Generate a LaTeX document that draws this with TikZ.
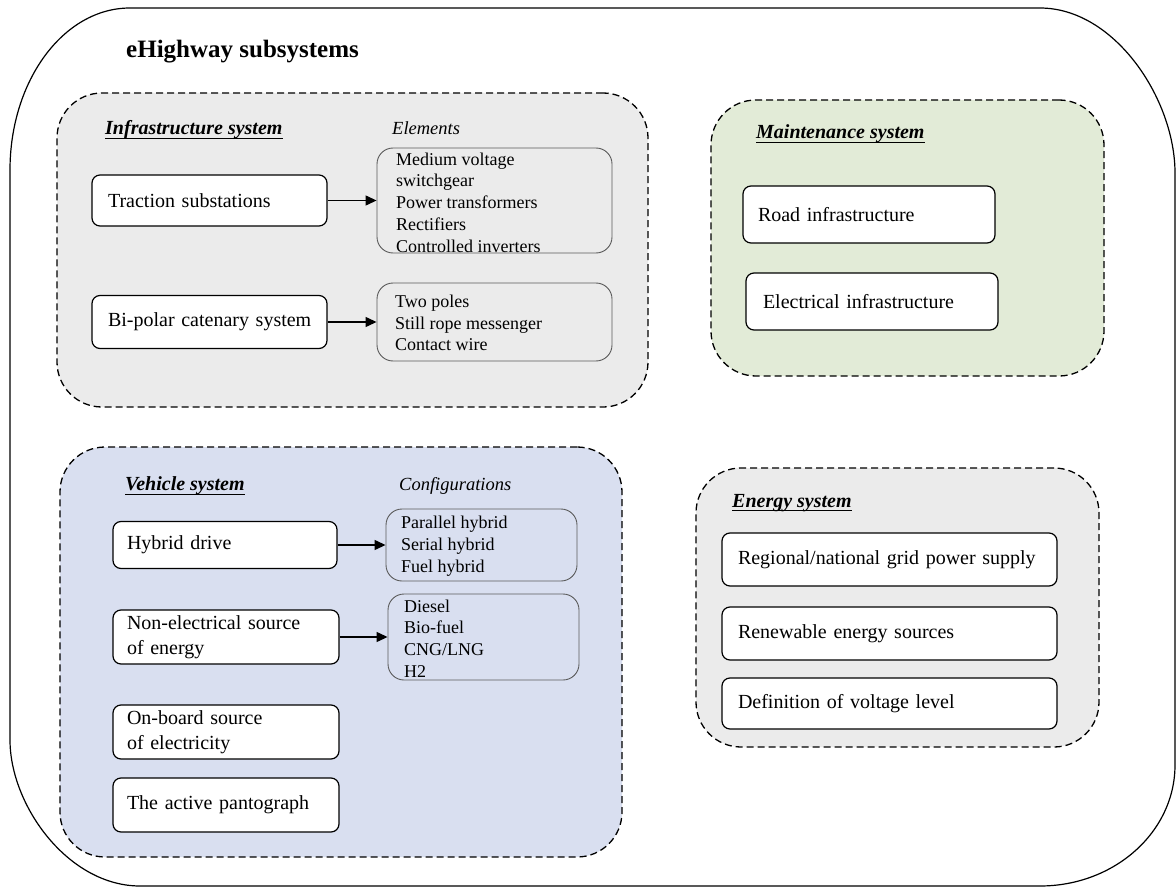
\documentclass[tikz,border=0pt]{standalone}
\usepackage{fontspec}
\setmainfont{Liberation Serif}
\usetikzlibrary{arrows.meta}

\definecolor{greyfill}{RGB}{235,235,235}
\definecolor{greenfill}{RGB}{226,235,215}
\definecolor{bluefill}{RGB}{217,223,240}
\definecolor{listline}{RGB}{90,90,90}

\newcommand\boxfont{\fontsize{20}{24.5}\selectfont}
\newcommand\listfont{\fontsize{18}{21.8}\selectfont}

\tikzset{
  group/.style={draw, dash pattern=on 7pt off 4pt, line width=1.3pt,
    rounded corners=45pt, inner sep=0pt},
  mainbox/.style={draw, line width=1.2pt, rounded corners=8pt, fill=white,
    inner sep=0pt, align=left, font=\boxfont},
  listbox/.style={draw=listline, line width=0.9pt, rounded corners=16pt,
    inner sep=0pt},
  listtext/.style={anchor=west, inner sep=0pt, align=left, font=\listfont},
  grouptitle/.style={anchor=west, inner sep=0pt,
    font=\fontsize{20}{24}\selectfont\bfseries\itshape},
  colhead/.style={anchor=west, inner sep=0pt,
    font=\fontsize{18.5}{22}\selectfont\itshape},
  link/.style={line width=1.3pt, -{Triangle[length=11pt,width=10pt]}},
  underl/.style={line width=1.1pt}
}

\begin{document}
\begin{tikzpicture}[x=1pt,y=-1pt]
\useasboundingbox (0,0) rectangle (1176,888);

% outer frame
\draw[line width=1.2pt]
  (10,170) .. controls (10,80.5) and (63.7,8) .. (130,8)
  -- (1040,8) .. controls (1114.6,8) and (1175,99.1) .. (1175,173)
  -- (1175,765) .. controls (1175,831.8) and (1114.6,886) .. (1040,886)
  -- (140,886) .. controls (68.2,886) and (10,805.4) .. (10,740) -- cycle;

\node[anchor=west, inner sep=0pt, font=\fontsize{25}{30}\selectfont\bfseries]
  (maintitle) at (126,52) {eHighway subsystems};

% ---------------- infrastructure system ----------------
\node[group, fill=greyfill, minimum width=591pt, minimum height=314pt]
  (infra) at (352.5,250) {};
\node[grouptitle] (infratitle) at (105,130) {Infrastructure system};
\draw[underl] ([yshift=-3.5pt]infratitle.base west) -- ([yshift=-3.5pt]infratitle.base east);
\node[colhead] (elemhead) at (392,128) {Elements};

\node[mainbox, minimum width=235pt, minimum height=51pt, text width=203pt]
  (trac) at (209.5,200.5) {Traction substations};
\node[listbox, minimum width=235pt, minimum height=105pt] (elem) at (494.5,200.5) {};
\node[listtext] (elemtext) at (396,202.5) {Medium voltage\\switchgear\\Power transformers\\Rectifiers\\Controlled inverters};

\node[mainbox, minimum width=235pt, minimum height=53pt, text width=203pt]
  (bipol) at (209.5,322) {\mbox{Bi-polar catenary system}};
\node[listbox, minimum width=235pt, minimum height=78pt] (cat) at (494.5,322) {};
\node[listtext] (cattext) at (395,323) {Two poles\\Still rope messenger\\Contact wire};

\draw[link] (trac.east) -- (elem.west);
\draw[link] (bipol.east) -- (cat.west);

% ---------------- maintenance system ----------------
\node[group, fill=greenfill, minimum width=393pt, minimum height=276pt]
  (maint) at (907.5,238) {};
\node[grouptitle] (mainttitle) at (756,134) {Maintenance system};
\draw[underl] ([yshift=-3.5pt]mainttitle.base west) -- ([yshift=-3.5pt]mainttitle.base east);

\node[mainbox, minimum width=252pt, minimum height=57pt, text width=222pt]
  (road) at (869,214.5) {Road infrastructure};
\node[mainbox, minimum width=252pt, minimum height=57pt, text width=218pt]
  (elec) at (872,301.5) {Electrical infrastructure};

% ---------------- vehicle system ----------------
\node[group, fill=bluefill, minimum width=562pt, minimum height=410pt]
  (vehicle) at (341,652) {};
\node[grouptitle] (vehtitle) at (125,486) {Vehicle system};
\draw[underl] ([yshift=-3.5pt]vehtitle.base west) -- ([yshift=-3.5pt]vehtitle.base east);
\node[colhead] (confhead) at (399,486) {Configurations};

\node[mainbox, minimum width=224pt, minimum height=47pt, text width=196pt]
  (hyb) at (225,545) {Hybrid drive};
\node[listbox, minimum width=191pt, minimum height=72pt] (conf) at (481.5,545) {};
\node[listtext] (conftext) at (401,546) {Parallel hybrid\\Serial hybrid\\Fuel hybrid};

\node[mainbox, minimum width=226pt, minimum height=54pt, text width=198pt]
  (nonel) at (226,637) {Non-electrical source\\of energy};
\node[listbox, minimum width=191pt, minimum height=86pt] (fuel) at (483.5,637) {};
\node[listtext] (fueltext) at (404,638.5) {Diesel\\Bio-fuel\\CNG/LNG\\H2};

\node[mainbox, minimum width=226pt, minimum height=54pt, text width=198pt]
  (onb) at (226,732) {On-board source\\of electricity};
\node[mainbox, minimum width=226pt, minimum height=54pt, text width=198pt]
  (pant) at (226,805) {The active pantograph};

\draw[link] (hyb.east) -- (conf.west);
\draw[link] (nonel.east) -- (fuel.west);

% ---------------- energy system ----------------
\node[group, fill=greyfill, minimum width=403pt, minimum height=279pt]
  (energy) at (897.5,607.5) {};
\node[grouptitle] (entitle) at (732,503) {Energy system};
\draw[underl] ([yshift=-3.5pt]entitle.base west) -- ([yshift=-3.5pt]entitle.base east);

\node[mainbox, minimum width=335pt, minimum height=53pt, text width=303pt]
  (grid) at (889.5,559.5) {Regional/national grid power supply};
\node[mainbox, minimum width=335pt, minimum height=53pt, text width=303pt]
  (renew) at (889.5,633.5) {Renewable energy sources};
\node[mainbox, minimum width=335pt, minimum height=51pt, text width=303pt]
  (volt) at (889.5,703.5) {Definition of voltage level};
\end{tikzpicture}
\end{document}
